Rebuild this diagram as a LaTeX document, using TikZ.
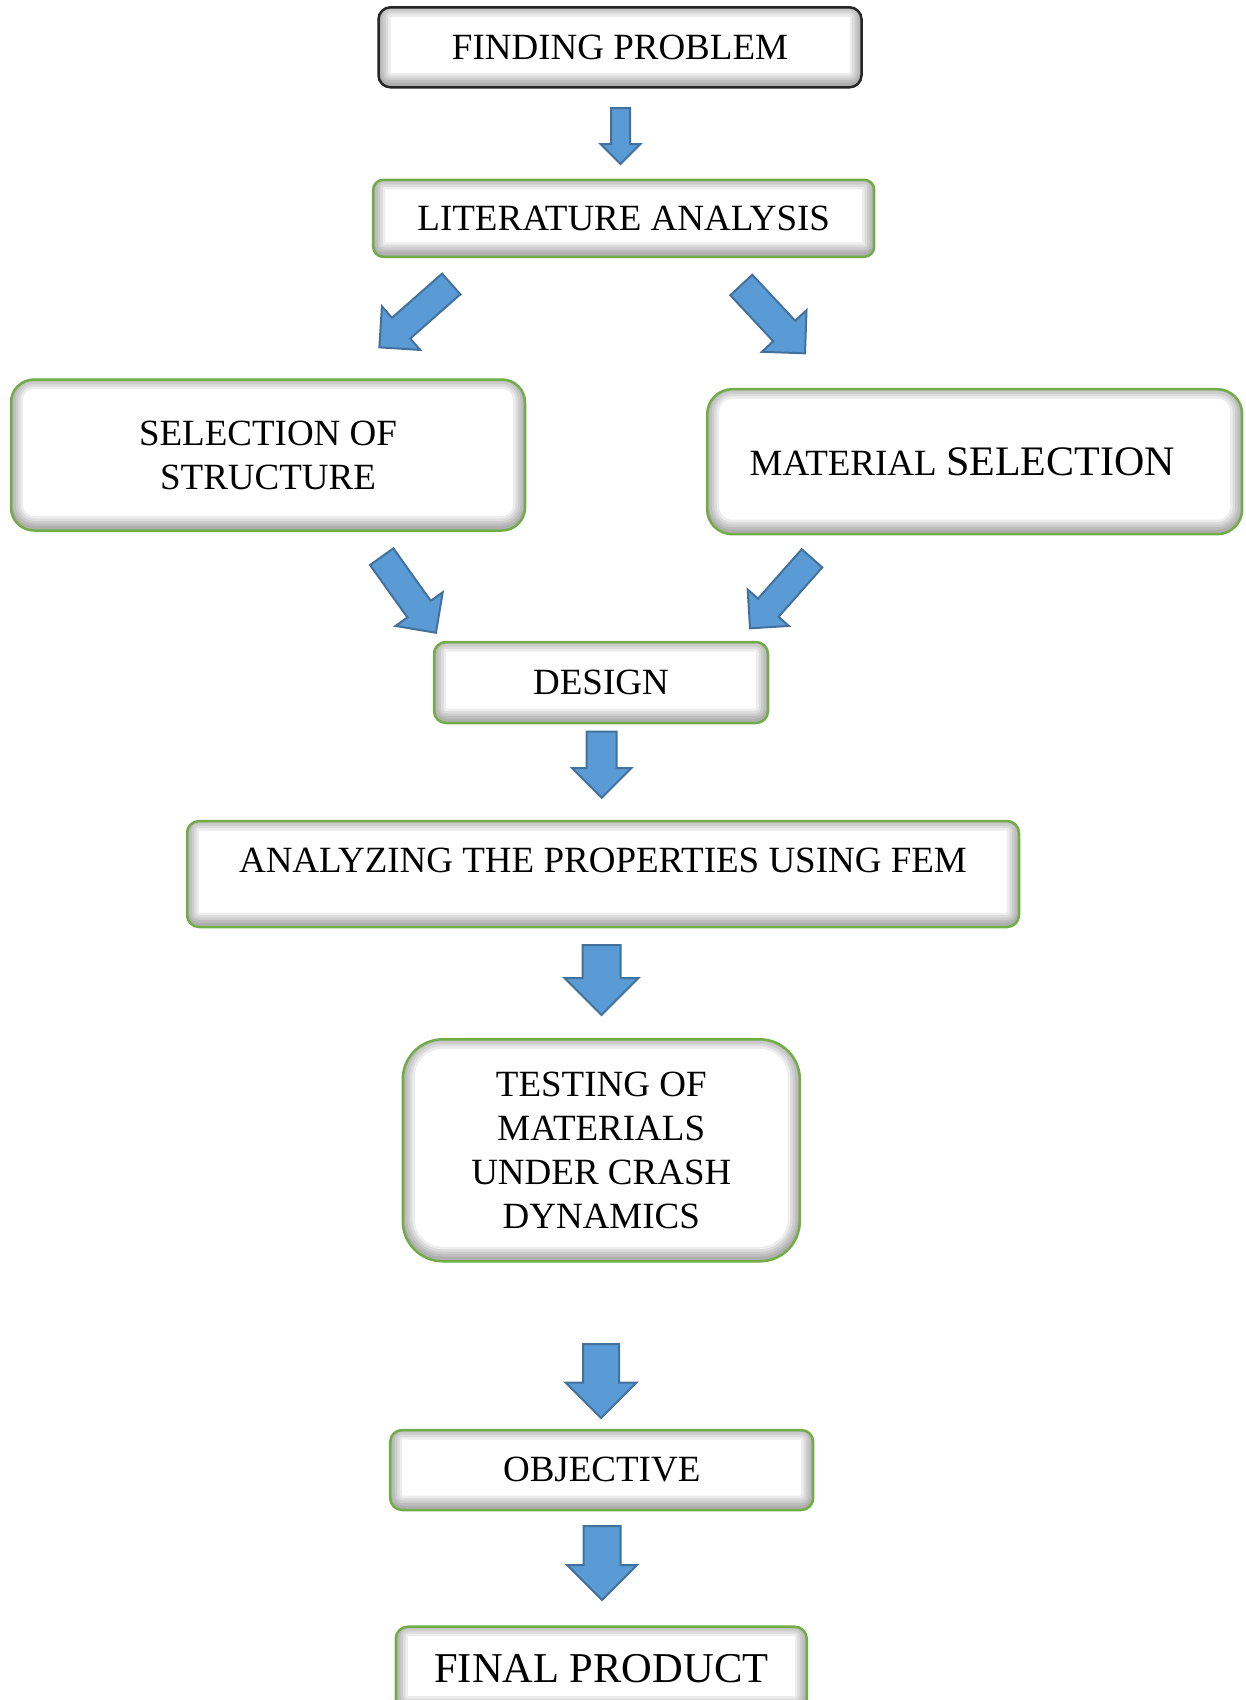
\documentclass[tikz,border=0pt]{standalone}
\usepackage{fontspec}
\setmainfont{Liberation Serif}
\definecolor{boxgreen}{RGB}{112,173,71}
\definecolor{arrfill}{RGB}{91,155,213}
\definecolor{arrline}{RGB}{65,113,156}
\newcommand{\blockarr}[7]{%
  \begin{scope}[shift={(#2,#3)}, rotate=#4]
    \draw[barrow] (0,{#6/2}) -- ({#5-#7/2},{#6/2}) -- ({#5-#7/2},{#7/2}) -- (#5,0)
      -- ({#5-#7/2},{-#7/2}) -- ({#5-#7/2},{-#6/2}) -- (0,{-#6/2}) -- cycle;
    \coordinate (#1) at ({#5/2},0);
  \end{scope}}
\begin{document}
\begin{tikzpicture}[x=1pt,y=-1pt,
  barrow/.style={fill=arrfill, draw=arrline, line width=2pt, line join=miter},
  flowbox/.style={draw=boxgreen, line width=2.5pt, fill=white, rounded corners=#1,
    inner sep=0pt, align=center, font=\fontsize{37}{44}\selectfont,
    path picture={
      \foreach \w in {24,19,14,9,4}{
        \draw[line width=\w pt, black, opacity=0.07, rounded corners=#1]
          ([yshift=2.5pt]path picture bounding box.south west) rectangle
          ([yshift=2.5pt]path picture bounding box.north east);
      }}},
  flowbox/.default=12pt]
\useasboundingbox (0,0) rectangle (1245,1700);

\node[flowbox, draw=black!85, minimum width=483pt, minimum height=80pt] (b1) at (620,47.3) {FINDING PROBLEM};
\node[flowbox=10pt, minimum width=501pt, minimum height=77pt] (b2) at (623.7,218.3)
  {\raisebox{-5pt}{LITERATURE ANALYSIS}};
\node[flowbox=23pt, minimum width=514pt, minimum height=151pt] (b3) at (268,455) {SELECTION OF\\STRUCTURE};
\node[flowbox=25pt, minimum width=535pt, minimum height=145pt] (b4) at (974.7,461.7)
  {\raisebox{-5pt}{MATERIAL {\fontsize{42}{48}\selectfont SELECTION}}\hspace{25pt}};
\node[flowbox, minimum width=334pt, minimum height=81pt] (b5) at (601,682.5) {DESIGN};
\node[flowbox, minimum width=832pt, minimum height=106pt] (b6) at (603,874)
  {\raisebox{28pt}{ANALYZING THE PROPERTIES USING FEM}};
\node[flowbox=40pt, minimum width=397pt, minimum height=222pt] (b7) at (601.3,1150.3)
  {\fontsize{37}{43}\selectfont TESTING OF\\MATERIALS\\UNDER CRASH\\DYNAMICS};
\node[flowbox, minimum width=423pt, minimum height=80pt] (b8) at (601.7,1470) {OBJECTIVE};
\node[flowbox, minimum width=411pt, minimum height=84pt] (b9) at (601.3,1668.7)
  {\fontsize{42.5}{48}\selectfont FINAL PRODUCT};

\blockarr{a1}{620.5}{108}{-90}{56}{19}{40}
\blockarr{a2}{451.2}{284}{-138.6}{95.8}{27.6}{58}
\blockarr{a3}{741.3}{285}{-47}{93.4}{30}{61}
\blockarr{a4}{381.7}{556.7}{-54.5}{93.4}{28.7}{58}
\blockarr{a5}{812}{558.3}{-131.5}{93.5}{27.4}{55}
\blockarr{a6}{601.7}{731.7}{-90}{66}{30}{59}
\blockarr{a7}{601.5}{945}{-90}{70}{38}{74}
\blockarr{a8}{601}{1344}{-90}{74}{36}{71}
\blockarr{a9}{602}{1526}{-90}{74}{37}{70}
\end{tikzpicture}
\end{document}
